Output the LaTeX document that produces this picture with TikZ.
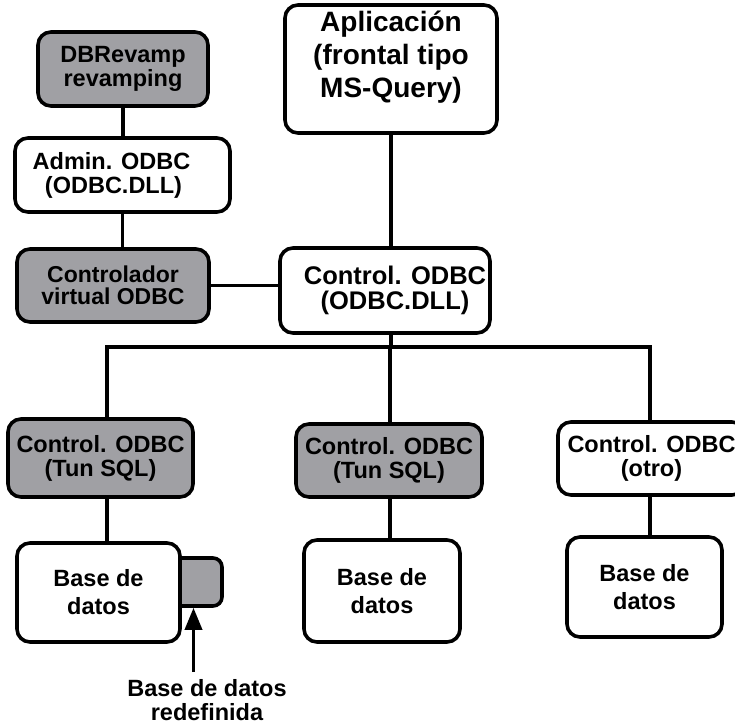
\documentclass[tikz,border=0pt]{standalone}
\usepackage{fontspec}
\setmainfont{Liberation Sans}
\usetikzlibrary{arrows.meta,positioning,calc}
\definecolor{dbgray}{RGB}{160,160,164}
\tikzset{
  box/.style  ={draw=black, line width=3.6pt, rounded corners=13pt, align=center,
                inner sep=2pt, fill=white, font=\bfseries\fontsize{23.5}{24}\selectfont},
  gbox/.style ={box, fill=dbgray},
  dbbox/.style={box, font=\bfseries\fontsize{23.5}{28}\selectfont},
  lbl/.style  ={align=center, inner sep=1pt, font=\bfseries\fontsize{23.5}{24}\selectfont},
  ln/.style   ={line width=3.6pt, draw=black},
  arr/.style  ={line width=3.6pt, -{Triangle[length=22pt,width=17pt]}},
}

\begin{document}
\begin{tikzpicture}[x=1pt,y=-1pt]
\useasboundingbox (0,0) rectangle (735,727);
% left column: revamping tool and ODBC admin
\node[gbox, minimum width=170pt, minimum height=74pt] (rev) at (123,69) {DBRevamp\\revamping};
\node[box, minimum width=215pt, minimum height=74pt] (adm) at (122.5,175) {Admin. ODBC\hspace*{22pt}\\(ODBC.DLL)\hspace*{18pt}};
\node[gbox, minimum width=192pt, minimum height=73pt, font=\bfseries\fontsize{23}{22.5}\selectfont] (virt) at (113,285.5) {Controlador\\virtual ODBC};
% application and driver manager
\node[box, minimum width=212pt, minimum height=128pt, font=\bfseries\fontsize{28}{33}\selectfont] (app) at (391,69) {Aplicación\\(frontal tipo\\MS-Query)\\[-4pt]\mbox{}};
\node[box, minimum width=210pt, minimum height=85pt, font=\bfseries\fontsize{25.5}{25}\selectfont] (ctl) at (385,290.5) {\hspace*{20pt}Control. ODBC\\\hspace*{20pt}(ODBC.DLL)};
% drivers
\node[gbox, minimum width=185pt, minimum height=78pt] (tun1) at (100.5,458) {Control. ODBC\\(Tun SQL)};
\node[gbox, minimum width=186pt, minimum height=73pt] (tun2) at (389,460.5) {Control. ODBC\\(Tun SQL)};
\node[box, minimum width=187pt, minimum height=73pt] (otro) at (651.5,458.5) {Control. ODBC\\(otro)};
% databases
\node[gbox, rounded corners=9pt, minimum width=57pt, minimum height=48pt] (tab) at (193.5,582) {};
\node[dbbox, minimum width=163pt, minimum height=99pt] (db1) at (98.5,592.5) {Base de\\datos};
\node[dbbox, minimum width=156pt, minimum height=102pt] (db2) at (382,591) {Base de\\datos};
\node[dbbox, minimum width=155pt, minimum height=100pt] (db3) at (644.5,587) {Base de\\datos};
\node[lbl, anchor=north] (redef) at (207,678) {Base de datos\\redefinida};
% bus
\coordinate (j1) at (107,347);
\coordinate (j2) at (390,347);
\coordinate (j3) at (650,347);
\draw[ln] (rev.south) -- (rev.south |- adm.north);
\draw[ln] (adm.south) -- (adm.south |- virt.north);
\draw[ln] (virt.east) -- (virt.east -| ctl.west);
\draw[ln] (app.south) -- (app.south |- ctl.north);
\draw[ln] (app.south |- ctl.south) -- (app.south |- j2);
\draw[ln] (j1 |- tun1.north) -- (j1) -- (j3) -- (j3 |- otro.north);
\draw[ln] (j2) -- (j2 |- tun2.north);
\draw[ln] (j1 |- tun1.south) -- (j1 |- db1.north);
\draw[ln] (j2 |- tun2.south) -- (j2 |- db2.north);
\draw[ln] (j3 |- otro.south) -- (j3 |- db3.north);
\draw[arr] ($(redef.north -| tab.south)+(0,-6)$) -- (tab.south);
\end{tikzpicture}
\end{document}
